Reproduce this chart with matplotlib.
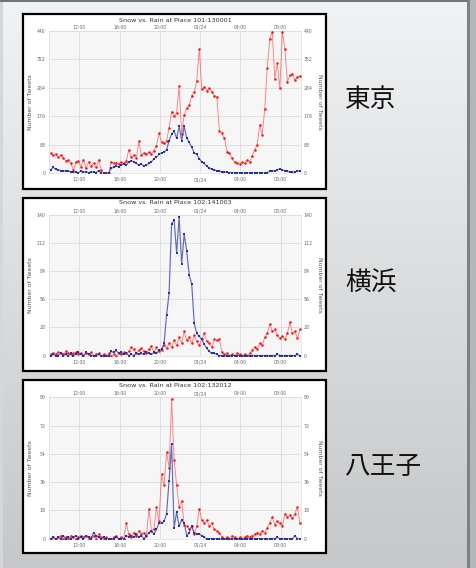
import numpy as np
import matplotlib
matplotlib.use("Agg")
import matplotlib.pyplot as plt
from matplotlib.patches import Rectangle

W, H = 476, 568

# ---------------- data ----------------
# sample times: minutes since 00:00 on 01/23, every 15 minutes from 09:10
minutes = np.arange(550, 550 + 15 * 100, 15)

tick_minutes = [720, 960, 1200, 1440, 1680, 1920]
tick_labels = ["12:00", "16:00", "20:00", "01/24", "04:00", "08:00"]

place_names = ["東京", "横浜", "八王子"]
titles = ["Snow vs. Rain at Place 101:130001",
          "Snow vs. Rain at Place 102:141003",
          "Snow vs. Rain at Place 102:132012"]
y_max = [440, 140, 90]

tokyo_rain = [62, 55, 58, 50, 55, 48, 38, 40, 30, 10,
              35, 38, 20, 41, 15, 35, 22, 30, 18, 41,
              10, 0, 0, 0, 36, 30, 32, 28, 35, 30,
              38, 72, 50, 55, 48, 98, 55, 62, 58, 65,
              60, 70, 85, 124, 95, 92, 100, 140, 190, 176,
              186, 270, 120, 180, 200, 210, 240, 250, 285, 385,
              260, 265, 255, 262, 250, 240, 235, 130, 124, 108,
              67, 62, 46, 35, 31, 28, 35, 30, 40, 35,
              52, 72, 88, 150, 119, 197, 326, 415, 437, 291,
              340, 262, 437, 385, 282, 302, 306, 288, 297, 300]
tokyo_snow = [10, 18, 12, 10, 8, 8, 6, 6, 5, 3,
              4, 2, 6, 3, 5, 2, 3, 4, 2, 8,
              0, 0, 0, 0, 15, 18, 22, 20, 25, 28,
              25, 35, 38, 36, 30, 25, 28, 22, 25, 30,
              35, 45, 50, 58, 62, 65, 72, 100, 120, 130,
              108, 145, 100, 145, 108, 95, 80, 62, 58, 45,
              35, 30, 22, 15, 12, 10, 8, 6, 5, 4,
              3, 2, 2, 1, 0, 0, 0, 0, 0, 0,
              0, 0, 0, 0, 0, 0, 2, 6, 8, 6,
              10, 14, 10, 8, 6, 5, 3, 4, 8, 6]

yokohama_rain = [1, 2, 1, 3, 2, 1, 4, 2, 1, 2,
                 3, 1, 2, 0, 2, 1, 3, 0, 1, 2,
                 0, 1, 0, 2, 0, 1, 0, 2, 1, 3,
                 2, 4, 8, 6, 2, 5, 7, 4, 2, 6,
                 9, 3, 8, 4, 5, 10, 7, 12, 8, 15,
                 10, 18, 12, 24, 15, 18, 12, 20, 14, 10,
                 16, 22, 14, 12, 8, 16, 15, 16, 3, 1,
                 2, 0, 1, 0, 2, 1, 0, 1, 0, 2,
                 5, 8, 6, 12, 10, 18, 22, 31, 24, 26,
                 20, 17, 19, 16, 22, 33, 22, 24, 17, 26]
yokohama_snow = [0, 1, 0, 0, 2, 0, 1, 0, 2, 0,
                 1, 3, 1, 0, 3, 1, 0, 0, 0, 1,
                 0, 0, 0, 0, 4, 3, 5, 2, 3, 1,
                 2, 0, 1, 0, 2, 1, 2, 1, 3, 2,
                 1, 3, 2, 5, 6, 12, 40, 62, 131, 135,
                 102, 138, 91, 121, 104, 80, 71, 32, 22, 19,
                 16, 11, 7, 4, 2, 2, 1, 0, 0, 0,
                 0, 0, 0, 0, 0, 0, 0, 0, 0, 0,
                 0, 0, 0, 0, 0, 0, 0, 0, 0, 0,
                 1, 0, 0, 0, 0, 0, 0, 0, 1, 0]

hachioji_rain = [0, 1, 0, 1, 2, 0, 1, 0, 2, 1,
                 0, 1, 2, 1, 2, 0, 1, 2, 0, 3,
                 1, 0, 1, 0, 0, 1, 2, 0, 1, 0,
                 10, 3, 1, 4, 2, 5, 3, 4, 2, 19,
                 5, 6, 20, 11, 41, 34, 55, 45, 89, 50,
                 34, 20, 24, 9, 8, 6, 8, 3, 8, 19,
                 12, 10, 12, 8, 10, 6, 5, 4, 1, 0,
                 1, 0, 2, 1, 0, 1, 0, 1, 2, 1,
                 2, 3, 4, 3, 5, 4, 7, 10, 14, 9,
                 11, 10, 8, 16, 14, 15, 13, 16, 20, 10]
hachioji_snow = [0, 1, 0, 1, 0, 2, 0, 1, 0, 1,
                 2, 0, 1, 0, 2, 1, 0, 4, 2, 1,
                 0, 1, 0, 0, 0, 0, 1, 0, 0, 0,
                 2, 1, 2, 1, 3, 1, 2, 0, 2, 4,
                 5, 3, 6, 10, 10, 11, 16, 37, 60, 7,
                 17, 8, 12, 10, 2, 4, 8, 4, 3, 3,
                 2, 1, 0, 0, 0, 0, 0, 0, 0, 0,
                 0, 0, 0, 0, 0, 0, 0, 0, 0, 0,
                 0, 0, 0, 0, 0, 0, 0, 0, 0, 0,
                 1, 0, 0, 0, 0, 0, 0, 2, 0, 0]

rain_series = [tokyo_rain, yokohama_rain, hachioji_rain]
snow_series = [tokyo_snow, yokohama_snow, hachioji_snow]

# ---------------- layout (pixels) ----------------
boxes = [(23, 14, 326, 189), (23, 198, 326, 371), (23, 380, 326, 553)]
plots = [(49.1, 30.8, 300.8, 173.2), (49.1, 214.8, 300.8, 355.5), (49.1, 397.2, 300.8, 538.8)]
title_y = [20.7, 203.0, 385.7]
name_y = [100, 284, 467]


def rect(x0, y0, x1, y1):
    return [x0 / W, 1 - y1 / H, (x1 - x0) / W, (y1 - y0) / H]


fig = plt.figure(figsize=(W / 100, H / 100), dpi=100)

# background gradient
bg = fig.add_axes([0, 0, 1, 1])
bg.set_xlim(0, W)
bg.set_ylim(H, 0)
top_c = np.array([0xf0, 0xf2, 0xf4]) / 255
bot_c = np.array([0xc6, 0xc7, 0xc9]) / 255
tt = np.linspace(0, 1, 256)[:, None]
grad = (top_c[None, :] * (1 - tt) + bot_c[None, :] * tt)[:, None, :]
bg.imshow(grad, extent=[0, W, H, 0], aspect="auto", zorder=0)
bg.add_patch(Rectangle((0, 0), 3, H, color="#d4d6d8", zorder=1, lw=0))
bg.add_patch(Rectangle((0, 0), W, 2, color="#707479", zorder=2, lw=0))
bg.add_patch(Rectangle((467, 0), 3, H, color="#7d8084", zorder=2, lw=0))
bg.add_patch(Rectangle((470, 0), 6, H, color="#b4b6b9", zorder=2, lw=0))
bg.axis("off")

for i in range(3):
    x0, y0, x1, y1 = boxes[i]
    bg.add_patch(Rectangle((x0, y0), x1 - x0, y1 - y0, facecolor="white",
                           edgecolor="black", lw=1.6, zorder=3))
    bg.text(345, name_y[i], place_names[i], fontsize=18.5, va="center", ha="left",
            family=["Noto Sans CJK JP", "DejaVu Sans"], color="#111111", zorder=4)

    px0, py0, px1, py1 = plots[i]
    ax = fig.add_axes(rect(px0, py0, px1, py1))
    ax.set_facecolor("#f6f6f6")
    ax.set_xlim(540, 2040)
    ax.set_ylim(0, y_max[i])
    yt = np.linspace(0, y_max[i], 6)
    ax.set_yticks(yt)
    ax.set_yticklabels([str(int(v)) for v in yt])
    ax.set_xticks(tick_minutes)
    ax.set_xticklabels(tick_labels)
    ax.grid(True, color="#d6d6d6", lw=0.5)
    ax.set_axisbelow(True)
    for s in ax.spines.values():
        s.set_color("#dddddd")
        s.set_linewidth(0.5)
    ax.tick_params(length=0, labelsize=3.3, colors="#666666")
    ax.tick_params(axis="x", pad=3.0)
    ax.tick_params(axis="y", pad=2.6)

    secx = ax.secondary_xaxis("top")
    secx.set_xticks(tick_minutes)
    secx.set_xticklabels(tick_labels)
    secx.tick_params(length=0, labelsize=3.3, colors="#666666", pad=0.6)
    secx.spines["top"].set_visible(False)

    secy = ax.secondary_yaxis("right")
    secy.set_yticks(yt)
    secy.set_yticklabels([str(int(v)) for v in yt])
    secy.tick_params(length=0, labelsize=3.3, colors="#666666", pad=1.8)
    secy.spines["right"].set_visible(False)

    ax.plot(minutes, rain_series[i], color="#ff3030", lw=0.65, alpha=0.6, zorder=3)
    ax.plot(minutes, rain_series[i], ls="none", marker="o", ms=1.8,
            mfc="#ff1010", mec="#ff1010", mew=0, zorder=4)
    ax.plot(minutes, snow_series[i], color="#3a46b4", lw=0.85, alpha=0.8, zorder=5)
    ax.plot(minutes, snow_series[i], ls="none", marker="s", ms=1.5,
            mfc="#27319c", mec="#27319c", mew=0, zorder=6)

    cy = (py0 + py1) / 2
    fig.text(175 / W, 1 - title_y[i] / H, titles[i], fontsize=4.6, ha="center",
             va="center", color="#333333")
    fig.text(30.5 / W, 1 - cy / H, "Number of Tweets", fontsize=4.4, rotation=90,
             ha="center", va="center", color="#555555")
    fig.text(319.5 / W, 1 - cy / H, "Number of Tweets", fontsize=4.4, rotation=270,
             ha="center", va="center", color="#555555")

fig.savefig("out.png", dpi=100)
